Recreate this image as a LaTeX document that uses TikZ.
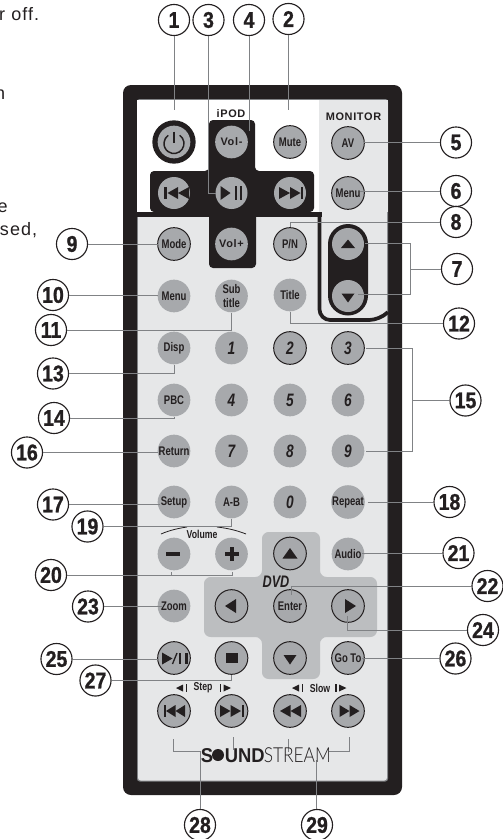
\documentclass[tikz,border=0pt]{standalone}
\usepackage{fontspec}
\setmainfont{Liberation Sans}
\newfontfamily\cond[FakeStretch=0.76]{Liberation Sans}
\newfontfamily\numf[FakeStretch=0.86,FakeBold=1.0]{Liberation Sans Bold}
\newfontfamily\wide[LetterSpace=6]{Liberation Sans}
\newfontfamily\logou[FakeStretch=0.92]{Liberation Sans}
\newfontfamily\logof[FakeStretch=0.84]{Lato Light}
\usetikzlibrary{calc}
\definecolor{ink}{HTML}{231F20}
\definecolor{btn}{HTML}{A7A9AC}
\definecolor{pale}{HTML}{E6E7E8}
\definecolor{cross}{HTML}{BCBEC0}
\definecolor{leadc}{HTML}{808285}
\tikzset{
  x=0.75pt,y=-0.75pt,
  key/.style={circle,fill=btn,minimum size=24.5pt,inner sep=0pt,text=ink,align=center,
     font=\cond\bfseries\fontsize{9.4}{9.8}\selectfont},
  keyo/.style={key,draw=ink,line width=0.75pt},
  keyw/.style={key,font=\wide\bfseries\fontsize{8.2}{9}\selectfont},
  digit/.style={font=\cond\bfseries\itshape\fontsize{13.5}{14}\selectfont},
  numc/.style={circle,draw=ink,fill=white,line width=0.85pt,minimum size=23.3pt,inner sep=0pt,text=ink,
     font=\numf\fontsize{17}{18}\selectfont},
  lead/.style={draw=leadc,line width=0.75pt},
  blk/.style={fill=ink},
  small/.style={text=ink,inner sep=0pt,font=\cond\bfseries\fontsize{8.6}{9}\selectfont},
  frag/.style={text=ink,inner sep=0pt,anchor=base east,font=\wide\fontsize{13.5}{14}\selectfont},
}
% horizontal triangle: base x, centre y, width (signed), half height
\newcommand{\triH}[4]{\fill[blk] (#1,{#2-#4}) -- ({#1+#3},#2) -- (#1,{#2+#4}) -- cycle;}
% vertical triangle: centre x, base y, height (signed), half width
\newcommand{\triV}[4]{\fill[blk] ({#1-#4},#2) -- (#1,{#2+#3}) -- ({#1+#4},#2) -- cycle;}
\newcommand{\barR}[4]{\fill[blk] (#1,#2) rectangle (#3,#4);}
\begin{document}
\begin{tikzpicture}
\useasboundingbox (0,0) rectangle (503,839);
% text fragments at the left edge
\node[frag] (fa) at (39.5,20.5) {r off.};
\node[frag] (fb) at (5.5,99) {n};
\node[frag] (fc) at (1.5,186) {,};
\node[frag] (fd) at (8,212) {e};
\node[frag] (fe) at (37.5,235) {sed,};
% body
\fill[ink,rounded corners=6pt] (123,85) rectangle (402,795);
\fill[leadc,rounded corners=2pt] (137,99) rectangle (388,781.5);
\fill[pale,rounded corners=2pt] (138,100) rectangle (387,780.5);
\fill[white] (137,100) rectangle (319,212);
\fill[pale] (319,100) rectangle (388,212);
\fill[ink] (137,212) rectangle (322,217);
\draw[ink,line width=2.8pt,rounded corners=8pt] (319.5,212) -- (319.5,320) -- (380,320) -- (388,312);
% iPod cross
\fill[ink,rounded corners=3pt] (209,120) -- (255,120) -- (255,171) -- (314,171) -- (314,212) -- (256,212) -- (256,268) -- (209,268) -- (209,212) -- (150,212) -- (150,171) -- (209,171) -- cycle;
% monitor pill
\fill[ink,rounded corners=15pt] (328,224) rectangle (368,315.5);
% DVD cross
\fill[cross,rounded corners=5pt] (262,532) -- (320,532) -- (320,577) -- (377,577) -- (377,637) -- (320,637) -- (320,679) -- (262,679) -- (262,637) -- (204,637) -- (204,577) -- (262,577) -- cycle;
% headings
\node[text=ink,inner sep=0pt,font=\wide\bfseries\fontsize{8.2}{9}\selectfont] (tipod) at (231,114) {iPOD};
\node[text=ink,inner sep=0pt,font=\wide\bfseries\fontsize{8.2}{9}\selectfont] (tmon) at (353.5,117) {MONITOR};
\node[text=ink,inner sep=0pt,font=\cond\bfseries\itshape\fontsize{12.5}{13}\selectfont] (tdvd) at (276,581.5) {DVD};
\node[small] (tvol) at (202,534.5) {Volume};
\draw[ink,line width=0.6pt] (161,534) .. controls (170,530) and (180,528) .. (187,527);
\draw[ink,line width=0.6pt] (217,527) .. controls (226,528) and (236,530) .. (246,534);
\node[small] (tstep) at (203,688) {Step};
\node[small] (tslow) at (320,688) {Slow};
\triH{183}{688}{-7}{3.5} \barR{185.5}{684}{187}{692}
\barR{219.5}{684}{221}{692} \triH{223.5}{688}{7.5}{3.5}
\triH{299}{688}{-7}{3.5} \barR{301.5}{684}{303}{692}
\barR{335}{684}{336.5}{692} \triH{339}{688}{7.5}{3.5}
% power button
\node[circle,fill=ink,minimum size=32.5pt,inner sep=0pt] (bpowo) at (174,142) {};
\node[key] (bpow) at (174,142) {};
\draw[ink,line width=1.1pt] (179.7,135.3) arc[start angle=-55,end angle=235,radius=10];
\draw[ink,line width=1.1pt] (174,131.5) -- (174,143);
% keys row by row
\node[keyw] (bvolm) at (231.5,142) {Vol-};
\node[keyo] (bmute) at (290,142) {Mute};
\node[keyo] (bav) at (348,143) {AV};
\node[key,minimum size=24pt] (bprev) at (174,193) {};
\node[key,minimum size=24pt] (bplay) at (231.5,193) {};
\node[key,minimum size=24pt] (bnext) at (290,193) {};
\node[keyo] (bmenua) at (348,193) {Menu};
\node[keyo] (bmode) at (174,244) {Mode};
\node[keyw] (bvolp) at (231.5,244) {Vol+};
\node[keyo] (bpn) at (290,244) {P/N};
\node[key,minimum size=24pt] (bup) at (348,244) {};
\node[key] (bmenub) at (174,296) {Menu};
\node[key] (bsub) at (231.5,296) {Sub\\title};
\node[key] (btitle) at (290,295) {Title};
\node[key,minimum size=24pt] (bdn) at (348,296) {};
\node[key] (bdisp) at (174,348) {Disp};
\node[key,digit] (b1) at (231.5,348) {1};
\node[keyo,digit] (b2) at (290,348) {2};
\node[keyo,digit] (b3) at (348,348) {3};
\node[key] (bpbc) at (174,400) {PBC};
\node[key,digit] (b4) at (231.5,400) {4};
\node[key,digit] (b5) at (290,400) {5};
\node[key,digit] (b6) at (348,400) {6};
\node[key] (bret) at (174,451) {Return};
\node[key,digit] (b7) at (231.5,451) {7};
\node[key,digit] (b8) at (290,451) {8};
\node[key,digit] (b9) at (348,451) {9};
\node[key] (bset) at (174,502) {Setup};
\node[key] (bab) at (231.5,502) {A-B};
\node[key,digit] (b0) at (290,502) {0};
\node[key] (brep) at (348,502) {Repeat};
\node[key] (bminus) at (174,554) {};
\node[key] (bplus) at (231.5,554) {};
\node[keyo] (bdup) at (290,553.5) {};
\node[key] (baud) at (348,554) {Audio};
\node[key] (bzoom) at (174,606) {Zoom};
\node[keyo] (bdl) at (231.5,606) {};
\node[keyo] (bent) at (290,606) {Enter};
\node[keyo] (bdr) at (348,606) {};
\node[keyo] (bpp) at (174,658) {};
\node[keyo] (bstop) at (231.5,658) {};
\node[keyo] (bddn) at (290,658) {};
\node[keyo] (bgo) at (348,658) {Go To};
\node[keyo] (bsp) at (174,711) {};
\node[keyo] (bsn) at (231.5,711) {};
\node[keyo] (brw) at (290,711) {};
\node[keyo] (bff) at (348,711) {};
% icons
\barR{164.3}{187}{166.5}{199} \triH{178}{193}{-10.5}{6} \triH{189}{193}{-11}{6}
\triH{220.5}{193}{10}{7} \barR{235}{186}{237.2}{200} \barR{239.5}{186}{241.7}{200}
\triH{279}{193}{11}{6} \triH{290}{193}{10.5}{6} \barR{300.5}{187}{303}{199}
\triV{348}{248}{-8.5}{7} \triV{348}{293.5}{9}{6.5}
\barR{166}{552}{180}{555.5}
\barR{225}{552.2}{238.5}{555.6} \barR{230}{547}{233.5}{561}
\triV{290}{558.5}{-10.5}{7.5}
\triH{236}{606}{-11}{7} \triH{345}{606}{11}{7}
\triV{290}{655}{9.5}{6.5}
\barR{226}{653}{238}{663}
\triH{162}{658.5}{10.5}{6} \draw[ink,line width=1pt] (172.5,664) -- (177,653);
\barR{178.5}{653}{181}{664} \barR{185}{653}{188}{664}
\barR{163.5}{705}{165.5}{717} \triH{175.5}{711}{-9.5}{6} \triH{185}{711}{-9.5}{6}
\triH{220}{711}{10.5}{6} \triH{230.5}{711}{10.5}{6} \barR{242}{705}{244.2}{717}
\triH{290.5}{711}{-10.5}{6} \triH{301}{711}{-10.5}{6}
\triH{339.5}{711}{10}{6} \triH{349.5}{711}{10}{6}
% callout numbers
\node[numc] (n1) at (174,20) {1};
\node[numc] (n3) at (208.5,20) {3};
\node[numc] (n4) at (249,20) {4};
\node[numc] (n2) at (288.5,19) {2};
\node[numc] (n5) at (456,142.5) {5};
\node[numc] (n6) at (456,191) {6};
\node[numc] (n8) at (456,222) {8};
\node[numc] (n7) at (457,269) {7};
\node[numc] (n9) at (72,244) {9};
\node[numc] (n10) at (53,295) {10};
\node[numc] (n11) at (51,330) {11};
\node[numc] (n12) at (459,323.5) {12};
\node[numc] (n13) at (53,373.5) {13};
\node[numc] (n14) at (54,418) {14};
\node[numc] (n15) at (465.5,400.5) {15};
\node[numc] (n16) at (27,452.5) {16};
\node[numc] (n17) at (53,504.5) {17};
\node[numc] (n18) at (449.5,502) {18};
\node[numc] (n19) at (87.5,526.5) {19};
\node[numc] (n20) at (51,575) {20};
\node[numc] (n21) at (458.5,553) {21};
\node[numc] (n22) at (487.5,586) {22};
\node[numc] (n23) at (88,606.5) {23};
\node[numc] (n24) at (483,630) {24};
\node[numc] (n25) at (56.5,659) {25};
\node[numc] (n26) at (455.5,658.5) {26};
\node[numc] (n27) at (95.5,680.5) {27};
\node[numc] (n28) at (200,825) {28};
\node[numc] (n29) at (317,825) {29};
% free ends of connectors
\coordinate (e1) at (174,110); \coordinate (e2) at (288.5,110);
\coordinate (e3) at (216,193); \coordinate (e4) at (249,131);
\coordinate (e5) at (364,142.5); \coordinate (e6) at (360,191);
\coordinate (e7a) at (365,243); \coordinate (e7b) at (358,294);
\coordinate (j7a) at (410,243); \coordinate (j7b) at (410,294); \coordinate (j7c) at (410,269);
\coordinate (e9) at (158,244); \coordinate (e10) at (158,295);
\coordinate (e15a) at (366,348); \coordinate (e15b) at (366,451);
\coordinate (j15a) at (412,348); \coordinate (j15b) at (412,451); \coordinate (j15c) at (412,400.5);
\coordinate (e16) at (158,452.5); \coordinate (e17) at (160,504.5);
\coordinate (e18) at (368,502); \coordinate (e20a) at (171,572); \coordinate (e20b) at (232,572);
\coordinate (e21) at (362,553); \coordinate (e22) at (291,595);
\coordinate (e23) at (163,606.5); \coordinate (e24) at (347,616);
\coordinate (e25) at (158,659); \coordinate (e26) at (362,658.5);
\coordinate (e28a) at (173,739); \coordinate (j28) at (200,751);
\coordinate (e28b) at (233.7,737); \coordinate (e28c) at (233.7,750);
\coordinate (e29a) at (349,737); \coordinate (j29) at (329,751);
\coordinate (e29b) at (288.7,739); \coordinate (e29c) at (288.7,752);
\coordinate (j29b) at (316,760);
% connectors
\draw[lead] (n1.south) -- (e1);
\draw[lead] (n2.south) -- (e2);
\draw[lead] (n3.south) |- (e3);
\draw[lead] (n4.south) -- (e4);
\draw[lead] (n5.west) -- (e5);
\draw[lead] (n6.west) -- (e6);
\draw[lead] (n8.west) -| (bpn.north);
\draw[lead] (e7a) -- (j7a) -- (j7b) -- (e7b);
\draw[lead] (j7c) -- (n7.west);
\draw[lead] (n9.east) -- (e9);
\draw[lead] (n10.east) -- (e10);
\draw[lead] (n11.east) -| (bsub.south);
\draw[lead] (n12.west) -| (btitle.south);
\draw[lead] (n13.east) -| (bdisp.south);
\draw[lead] (n14.east) -| (bpbc.south);
\draw[lead] (e15a) -- (j15a) -- (j15b) -- (e15b);
\draw[lead] (j15c) -- (n15.west);
\draw[lead] (n16.east) -- (e16);
\draw[lead] (n17.east) -- (e17);
\draw[lead] (n18.west) -- (e18);
\draw[lead] (n19.east) -| (bab.south);
\draw[lead] (n20.east) -| (e20b);
\draw[lead] (n20.east -| e20a) -- (e20a);
\draw[lead] (n21.west) -- (e21);
\draw[lead] (n22.west) -| (e22);
\draw[lead] (n23.east) -- (e23);
\draw[lead] (n24.west) -| (e24);
\draw[lead] (n25.east) -- (e25);
\draw[lead] (n26.west) -- (e26);
\draw[lead] (n27.east) -| (bstop.south);
\draw[lead] (e28a) |- (j28) -- (n28.north);
\draw[lead] (e28b) -- (e28c);
\draw[lead] (e29a) |- (j29);
\draw[lead] (e29b) -- (e29c);
\draw[lead] (j29b) -- (n29.north -| j29b);
% logo
\node[text=ink,inner sep=0pt,anchor=base west,font=\logou\bfseries\fontsize{15}{16}\selectfont] (ls) at (200.5,762) {S};
\node[circle,fill=ink,minimum size=9pt,inner sep=0pt] (lo) at (218,755) {};
\node[text=ink,inner sep=0pt,anchor=base west,font=\logou\bfseries\fontsize{15}{16}\selectfont] (lu) at (224.5,762) {UND};
\node[text=ink,inner sep=0pt,anchor=base west,font=\logof\fontsize{15.5}{16}\selectfont] (lt) at (263.5,762) {STREAM};
\end{tikzpicture}
\end{document}
